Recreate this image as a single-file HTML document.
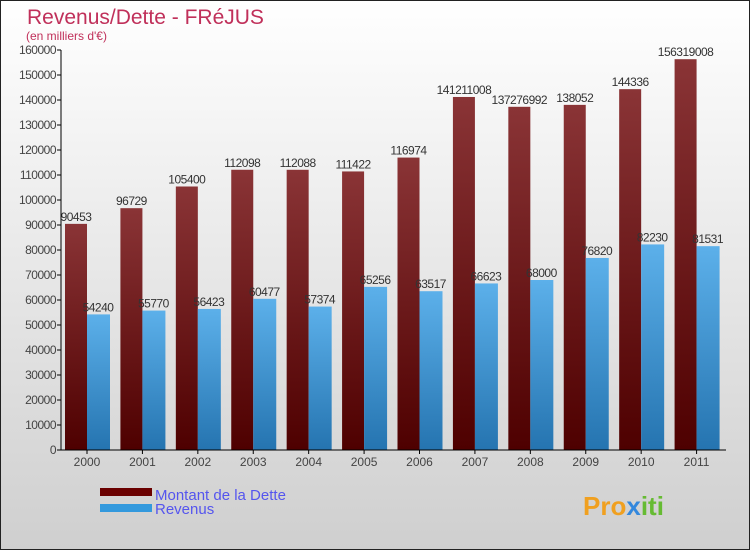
<!DOCTYPE html>
<html><head><meta charset="utf-8"><style>
body{margin:0;width:750px;height:550px;overflow:hidden;font-family:"Liberation Sans",sans-serif}
</style></head><body>
<svg id="c" width="750" height="550" xmlns="http://www.w3.org/2000/svg">
<defs>
<linearGradient id="bg" x1="0" y1="0" x2="0" y2="1"><stop offset="0" stop-color="#ffffff"/><stop offset="1" stop-color="#cfcfcf"/></linearGradient>
<linearGradient id="gd" x1="0" y1="0" x2="0" y2="1"><stop offset="0" stop-color="#8a3436"/><stop offset="1" stop-color="#4e0000"/></linearGradient>
<linearGradient id="gr" x1="0" y1="0" x2="0" y2="1"><stop offset="0" stop-color="#5cb0ea"/><stop offset="1" stop-color="#2574b0"/></linearGradient>
</defs>
<rect x="0.5" y="0.5" width="749" height="549" fill="url(#bg)" stroke="#222"/>
<text x="27" y="24" font-size="21" fill="#c0305a">Revenus/Dette - FRéJUS</text>
<text x="26" y="40" font-size="12" fill="#c0305a">(en milliers d'€)</text>
<g id="plot"></g>
<rect x="100" y="488" width="52" height="8" fill="#6a0000"/>
<text x="155" y="500" font-size="15" fill="#5555ee">Montant de la Dette</text>
<rect x="100" y="504" width="52" height="8" fill="#3399dd"/>
<text x="155" y="514" font-size="15" fill="#5555ee">Revenus</text>
<text x="583" y="515" font-size="26" font-weight="bold" fill="#f0a020">Pro<tspan fill="#3388dd">x</tspan><tspan fill="#66bb33">iti</tspan></text>
</svg>
<script>
const categories=["2000","2001","2002","2003","2004","2005","2006","2007","2008","2009","2010","2011"];
const dette=[90453,96729,105400,112098,112088,111422,116974,141211.008,137276.992,138052,144336,156319.008];
const revenus=[54240,55770,56423,60477,57374,65256,63517,66623,68000,76820,82230,81531];
const detteLabels=["90453","96729","105400","112098","112088","111422","116974","141211008","137276992","138052","144336","156319008"];
const yTicks=[0,10000,20000,30000,40000,50000,60000,70000,80000,90000,100000,110000,120000,130000,140000,150000,160000];
const NS="http://www.w3.org/2000/svg";
const g=document.getElementById('plot');
const x0=61,x1=726,yb=450,yt=50,ymax=160000;
const y=v=>yb-(v/ymax)*(yb-yt);
const step=(x1-x0)/categories.length;
function mk(t,a){const e=document.createElementNS(NS,t);for(const k in a)e.setAttribute(k,a[k]);g.appendChild(e);return e;}
yTicks.forEach(v=>{
 const l=mk('line',{x1:x0-4,x2:x0,y1:y(v),y2:y(v),stroke:'#000'});
 
 
 const t=mk('text',{x:x0-5,y:y(v)+4,'font-size':12,'text-anchor':'end',fill:'#444','letter-spacing':'-0.5'});
 t.textContent=v;
 
 
});
categories.forEach((c,i)=>{
 const gx=x0+i*step+4;
 const d=mk('rect',{x:gx,y:y(dette[i]),width:22,height:yb-y(dette[i]),fill:'url(#gd)'});
 
 
 const r=mk('rect',{x:gx+22,y:y(revenus[i]),width:23,height:yb-y(revenus[i]),fill:'url(#gr)'});
 
 
 const dl=mk('text',{x:gx+11,y:y(dette[i])-3,'font-size':12,'text-anchor':'middle',fill:'#333','letter-spacing':'-0.5'});
 dl.textContent=detteLabels[i];
 
 
 const rl=mk('text',{x:gx+33,y:y(revenus[i])-3,'font-size':12,'text-anchor':'middle',fill:'#333','letter-spacing':'-0.5'});
 rl.textContent=revenus[i];
 
 
 const tk=mk('line',{x1:gx+22,x2:gx+22,y1:yb,y2:yb+4,stroke:'#000'});
 
 
 const xl=mk('text',{x:gx+22,y:yb+16,'font-size':12,'text-anchor':'middle',fill:'#444'});
 xl.textContent=c;
 
 
});
const ax=mk('line',{x1:x0,x2:x0,y1:yt,y2:yb,stroke:'#000'});


const bx=mk('line',{x1:x0-4,x2:x1,y1:yb,y2:yb,stroke:'#000'});


</script>
</body></html>
